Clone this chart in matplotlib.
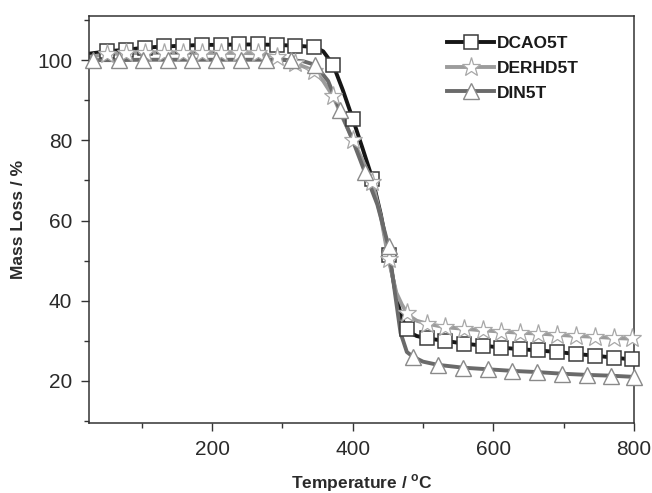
import matplotlib
matplotlib.use("Agg")
import matplotlib.pyplot as plt
from matplotlib.ticker import MultipleLocator

plt.rcParams['font.family'] = ['Liberation Sans', 'DejaVu Sans']
plt.rcParams['mathtext.fontset'] = 'custom'
plt.rcParams['mathtext.rm'] = 'Liberation Sans'
plt.rcParams['mathtext.bf'] = 'Liberation Sans:bold'

series_names = ["DCAO5T", "DERHD5T", "DIN5T"]

# ---- line data (temperature in C, mass %) ----
dcao_T = [25, 51, 78, 105, 131, 159, 185, 212, 238, 265, 292, 318, 345, 358, 372, 386, 400, 414, 428, 440, 451, 462, 470, 477, 484, 491, 505, 531, 558, 585, 611, 638, 664, 691, 718, 744, 771, 800]
dcao_M = [101.6, 102.2, 102.6, 103.1, 103.4, 103.6, 103.8, 103.8, 103.9, 103.9, 103.8, 103.6, 103.3, 102.2, 98.9, 92.5, 85.4, 78.0, 70.4, 61.5, 51.5, 41.0, 35.5, 33.0, 31.8, 31.2, 30.6, 30.0, 29.3, 28.8, 28.3, 27.9, 27.6, 27.2, 26.7, 26.3, 25.8, 25.3]

derhd_T = [25, 51, 78, 105, 131, 159, 185, 212, 238, 265, 292, 318, 345, 358, 372, 386, 400, 414, 428, 440, 451, 462, 470, 477, 484, 491, 505, 531, 558, 585, 611, 638, 664, 691, 718, 744, 771, 800]
derhd_M = [100.8, 101.5, 101.7, 101.8, 101.8, 101.8, 101.8, 101.8, 101.8, 101.7, 100.9, 99.2, 97.4, 94.8, 91.0, 85.5, 80.2, 75.0, 69.6, 61.0, 50.3, 42.0, 39.0, 37.0, 35.8, 35.0, 34.3, 33.4, 33.0, 32.6, 32.3, 32.0, 31.8, 31.5, 31.2, 31.0, 30.7, 30.5]

din_T = [25, 31, 67, 102, 137, 172, 206, 241, 277, 312, 330, 347, 365, 382, 400, 417, 435, 451, 460, 468, 477, 486, 500, 521, 557, 592, 627, 662, 697, 733, 767, 800]
din_M = [100.0, 100.0, 100.0, 100.1, 100.1, 100.1, 100.1, 100.1, 100.1, 100.0, 99.7, 98.8, 94.8, 87.5, 80.0, 72.2, 64.0, 53.6, 42.0, 32.0, 27.2, 26.0, 24.8, 24.0, 23.3, 22.9, 22.5, 22.2, 21.8, 21.5, 21.3, 21.0]

# ---- marker positions ----
dcao_mT = [51, 78, 105, 131, 159, 185, 212, 238, 265, 292, 318, 345, 372, 400, 428, 451, 477, 505, 531, 558, 585, 611, 638, 664, 691, 718, 744, 771, 797]
dcao_mM = [102.2, 102.6, 103.1, 103.4, 103.6, 103.8, 103.8, 103.9, 103.9, 103.8, 103.6, 103.3, 98.9, 85.4, 70.4, 51.5, 33.0, 30.6, 30.0, 29.3, 28.8, 28.3, 27.9, 27.6, 27.2, 26.7, 26.3, 25.8, 25.4]

derhd_mT = [51, 78, 105, 131, 159, 185, 212, 238, 265, 292, 318, 345, 372, 400, 428, 451, 477, 505, 531, 558, 585, 611, 638, 664, 691, 718, 744, 771, 797]
derhd_mM = [101.5, 101.7, 101.8, 101.8, 101.8, 101.8, 101.8, 101.8, 101.7, 100.9, 99.2, 97.4, 91.0, 80.2, 69.6, 50.3, 37.0, 34.3, 33.4, 33.0, 32.6, 32.3, 32.0, 31.8, 31.5, 31.2, 31.0, 30.7, 30.6]

din_mT = [31, 67, 102, 137, 172, 206, 241, 277, 312, 347, 382, 417, 451, 486, 521, 557, 592, 627, 662, 697, 733, 767, 800]
din_mM = [100.0, 100.0, 100.1, 100.1, 100.1, 100.1, 100.1, 100.1, 100.0, 98.8, 87.5, 72.2, 53.6, 26.0, 24.0, 23.3, 22.9, 22.5, 22.2, 21.8, 21.5, 21.3, 21.0]

x_ticks = [200, 400, 600, 800]
y_ticks = [20, 40, 60, 80, 100]

fig = plt.figure(figsize=(6.52, 4.93), dpi=100)
ax = fig.add_axes([0.1365, 0.142, 0.8359, 0.8255])

styles = [
    dict(lc="#161616", ec="#3a3a3a", marker="s", ms=9.5, mew=1.1),
    dict(lc="#9c9c9c", ec="#a8a8a8", marker="*", ms=14, mew=0.9),
    dict(lc="#6a6a6a", ec="#8a8a8a", marker="^", ms=12, mew=1.0),
]
data = [(dcao_T, dcao_M, dcao_mT, dcao_mM),
        (derhd_T, derhd_M, derhd_mT, derhd_mM),
        (din_T, din_M, din_mT, din_mM)]

handles = []
for name, (T, M, mT, mM), st in zip(series_names, data, styles):
    ax.plot(T, M, color=st["lc"], lw=2.8, zorder=2, solid_capstyle='butt')
for name, (T, M, mT, mM), st in zip(series_names, data, styles):
    ax.plot(mT, mM, ls="none", marker=st["marker"], ms=st["ms"], mfc="white",
            mec=st["ec"], mew=st["mew"], zorder=3, clip_on=False)
    h, = ax.plot([], [], color=st["lc"], lw=2.8, marker=st["marker"], ms=st["ms"],
                 mfc="white", mec=st["ec"], mew=st["mew"], label=name)
    handles.append(h)

ax.set_xlim(25, 800)
ax.set_ylim(9.5, 111)
ax.set_xticks(x_ticks)
ax.set_yticks(y_ticks)
ax.xaxis.set_minor_locator(MultipleLocator(100))
ax.yaxis.set_minor_locator(MultipleLocator(10))
ax.tick_params(axis='both', which='major', direction='out', length=6, width=1,
               labelsize=15, labelcolor="#2a2a2a", color="#333333", pad=6)
ax.tick_params(axis='both', which='minor', direction='out', length=3.5, width=1,
               color="#333333")
ax.tick_params(top=False, right=False)
for s in ax.spines.values():
    s.set_linewidth(1.1)
    s.set_color("#333333")

ax.set_xlabel(r"Temperature / $^\mathregular{o}$C", fontsize=12.5, fontweight="bold",
              color="#2a2a2a", labelpad=10)
ax.set_ylabel("Mass Loss / %", fontsize=12.5, fontweight="bold", color="#2a2a2a",
              labelpad=8)

leg = ax.legend(handles=handles, loc="upper left", bbox_to_anchor=(0.645, 0.968),
                frameon=False, handlelength=2.7, handletextpad=0.12, labelspacing=0.55,
                borderaxespad=0.0,
                prop=dict(family="Liberation Sans", weight="bold", size=12.5))
for t in leg.get_texts():
    t.set_color("#1a1a1a")

fig.savefig("out.png", dpi=100, facecolor="white")
